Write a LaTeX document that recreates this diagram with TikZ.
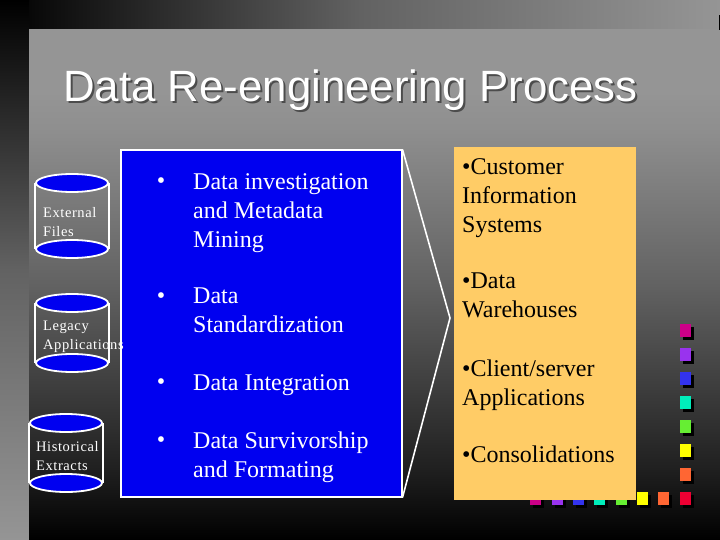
\documentclass[tikz,border=0pt]{standalone}
\usepackage{fontspec}
\setmainfont{Liberation Serif}
\newfontfamily\titlefont{Liberation Sans}
\newfontfamily\cylfont[LetterSpace=4]{Liberation Serif}
\usetikzlibrary{shapes.geometric}
\definecolor{panelgray}{HTML}{959595}
\definecolor{panelhigh}{HTML}{8E8E8E}
\definecolor{panelmid}{HTML}{626262}
\definecolor{panellow}{HTML}{202020}
\definecolor{slideblue}{HTML}{0000F0}
\definecolor{boxorange}{HTML}{FFCC66}
\definecolor{sqa}{HTML}{CC0088}
\definecolor{sqb}{HTML}{9933EE}
\definecolor{sqc}{HTML}{3333EE}
\definecolor{sqd}{HTML}{00EEBB}
\definecolor{sqe}{HTML}{66EE33}
\definecolor{sqf}{HTML}{FFFF00}
\definecolor{sqg}{HTML}{FF6633}
\definecolor{sqh}{HTML}{EE0033}
\pgfdeclareverticalshading{panelfade}{100bp}{color(0bp)=(black); color(25bp)=(black); color(32bp)=(panellow); color(50bp)=(panelmid); color(65bp)=(panelhigh); color(69bp)=(panelgray); color(100bp)=(panelgray)}

\begin{document}
\begin{tikzpicture}[x=1pt,y=-1pt]
        \tikzstyle{cylcap}=[ellipse,draw=white,line width=1.8pt,fill=slideblue,minimum width=72pt,minimum height=18pt,inner sep=0pt]
        \tikzstyle{cylside}=[draw=white,line width=1.8pt]
        \tikzstyle{cyllabel}=[anchor=north west,inner sep=0pt,align=left,text=white,font=\cylfont\fontsize{14.5}{19}\selectfont]
        \tikzstyle{steptext}=[anchor=north west,inner sep=0pt,align=left,text=white,font=\fontsize{24}{29}\selectfont]
        \tikzstyle{stepdot}=[anchor=north,inner sep=0pt,text=white,font=\fontsize{24}{29}\selectfont]
        \tikzstyle{usetext}=[anchor=north west,inner sep=0pt,align=left,text=black,font=\fontsize{24}{29}\selectfont]
        \tikzstyle{square}=[minimum width=11pt,minimum height=13pt,inner sep=0pt,outer sep=0pt]
        \useasboundingbox (0,0) rectangle (720,540);
        \shade[left color=black,right color=panelgray,middle color=panelmid] (0,0) rectangle (720,30);
        \shade[top color=black,bottom color=panelgray,middle color=panelmid] (0,0) rectangle (29,540);
        \shade[shading=panelfade] (29,30) rectangle (720,540);
        \fill[black] (718.5,15) rectangle (720,30);
        \node[anchor=base west,inner sep=0pt,text=black!70,font=\titlefont\fontsize{43.8}{44}\selectfont] (titleshadow) at (65,104) {Data Re-engineering Process};
        \node[anchor=base west,inner sep=0pt,text=white,font=\titlefont\fontsize{43.8}{44}\selectfont] (title) at (63,102) {Data Re-engineering Process};
        \foreach \n/\c/\y in {1/sqa/324,2/sqb/348,3/sqc/372,4/sqd/396,5/sqe/420,6/sqf/444,7/sqg/468,8/sqh/492} {
            \node[square,fill=black] (vshadow\n) at (688.5,\y+9.5) {};
            \node[square,fill=\c] (vsq\n) at (685.5,\y+6.5) {};
        }
        \foreach \n/\c/\x in {1/sqa/530,2/sqb/552,3/sqc/573,4/sqd/594,5/sqe/616,6/sqf/637,7/sqg/658} {
            \node[square,fill=black] (hshadow\n) at (\x+8.5,501.5) {};
            \node[square,fill=\c] (hsq\n) at (\x+5.5,498.5) {};
        }
        \node[draw=white,line width=2pt,fill=slideblue,minimum width=281pt,minimum height=346pt,inner sep=0pt] (steps) at (261,323.5) {};
        \coordinate (tip) at (450,318);
        \draw[white,line width=1.6pt] (steps.north east) -- (tip) -- (steps.south east);
        \node[fill=boxorange,minimum width=182pt,minimum height=353pt,inner sep=0pt] (uses) at (545,323.5) {};
        \node[cylcap] (exttop) at (72,183) {};
        \node[cylcap] (extbot) at (72,249) {};
        \draw[cylside] (exttop.west) -- (extbot.west) (exttop.east) -- (extbot.east);
        \node[cylcap] (legtop) at (72,303) {};
        \node[cylcap] (legbot) at (72,363) {};
        \draw[cylside] (legtop.west) -- (legbot.west) (legtop.east) -- (legbot.east);
        \node[cylcap] (histop) at (66,423) {};
        \node[cylcap] (hisbot) at (66,483) {};
        \draw[cylside] (histop.west) -- (hisbot.west) (histop.east) -- (hisbot.east);
        \node[cyllabel] (ext) at (43,207) {External\\Files};
        \node[cyllabel] (leg) at (43,321) {Legacy\\Applications};
        \node[cyllabel] (his) at (36,441) {Historical\\Extracts};
        \node[stepdot] (dota) at (161,177) {•};
        \node[steptext] (stepa) at (193,173) {Data investigation\\and Metadata\\Mining};
        \node[stepdot] (dotb) at (161,292) {•};
        \node[steptext] (stepb) at (193,288) {Data\\Standardization};
        \node[stepdot] (dotc) at (161,378) {•};
        \node[steptext] (stepc) at (193,374) {Data Integration};
        \node[stepdot] (dotd) at (161,436) {•};
        \node[steptext] (stepd) at (193,432) {Data Survivorship\\and Formating};
        \node[usetext] (usea) at (462,158) {•Customer\\Information\\Systems};
        \node[usetext] (useb) at (462,273) {•Data\\Warehouses};
        \node[usetext] (usec) at (462,360) {•Client/server\\Applications};
        \node[usetext] (used) at (462,446) {•Consolidations};
\end{tikzpicture}
\end{document}
